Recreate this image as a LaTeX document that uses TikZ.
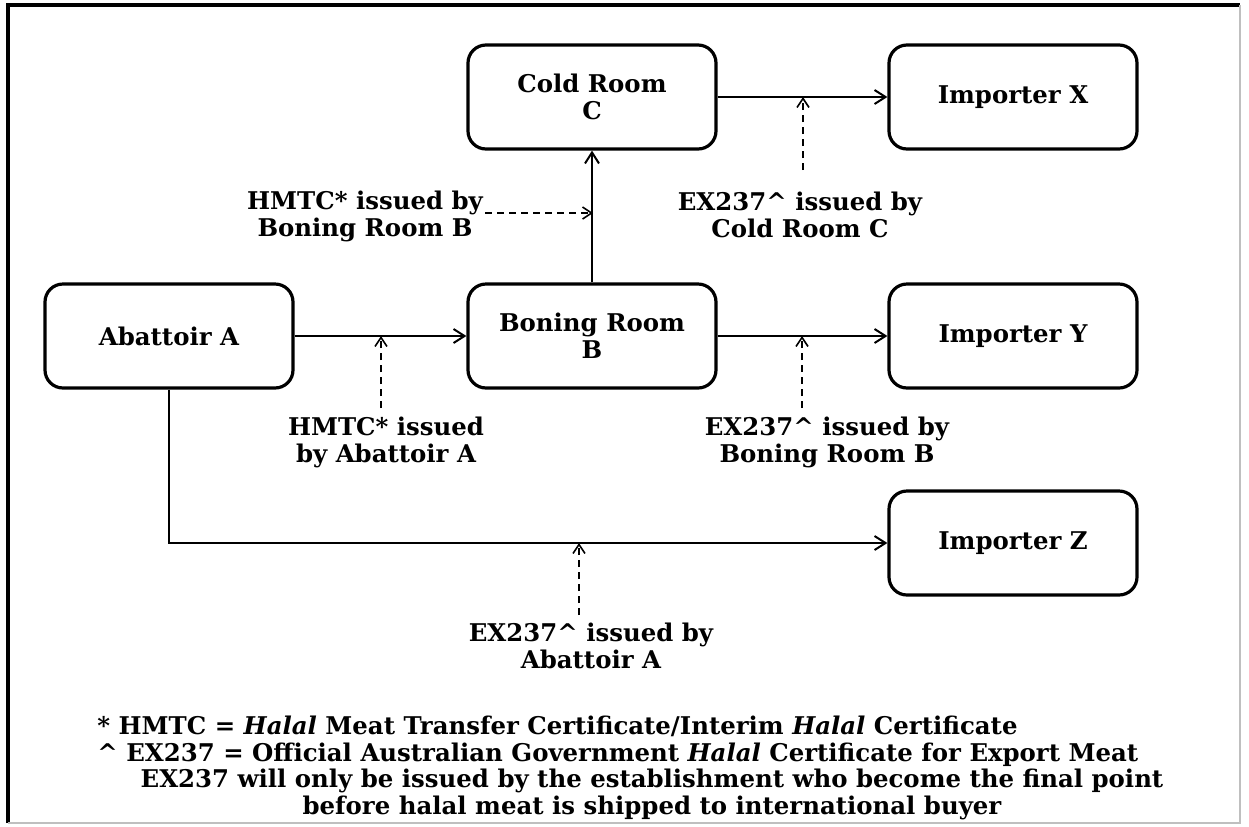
\documentclass[tikz,border=0pt]{standalone}
\usepackage{fontspec}
\setmainfont{DejaVu Serif}
\usetikzlibrary{arrows.meta,positioning}

\begin{document}
\begin{tikzpicture}[x=0.5pt, y=-0.5pt,
  font=\bfseries\fontsize{12.2}{13.5}\selectfont,
  box/.style={draw, line width=1.6pt, rounded corners=9pt, minimum width=124pt, minimum height=52pt, align=center},
  lbl/.style={align=center, inner sep=1pt},
  flow/.style={-{Straight Barb[length=5.5pt,width=7pt,line width=1pt]}, line width=1.1pt},
  cert/.style={-{Straight Barb[length=4.5pt,width=6pt,line width=0.8pt]}, dash pattern=on 3.5pt off 2.5pt, line width=0.8pt}]

  \useasboundingbox (0,0) rectangle (1249,826);
  % frame
  \draw[line width=1.6pt] (8,823) -- (8,5) -- (1240,5);
  \draw[gray!50, line width=0.6pt] (1240,5) -- (1240,823) -- (8,823);

  % places
  \node[box] (abattoir) at (169,336) {Abattoir A};
  \node[box] (boning) at (592,336) {Boning Room\\B};
  \node[box] (cold) at (592,97) {Cold Room\\C};
  \node[box] (impX) at (1013,97) {Importer X};
  \node[box] (impY) at (1013,336) {Importer Y};
  \node[box] (impZ) at (1013,543) {Importer Z};

  % certificates
  \node[lbl] (hmtcB) at (365,216) {HMTC* issued by\\Boning Room B};
  \node[lbl] (hmtcA) at (386,442) {HMTC* issued\\by Abattoir A};
  \node[lbl] (exC) at (800,215) {EX237\textasciicircum\ issued by\\Cold Room C};
  \node[lbl] (exB) at (827,442) {EX237\textasciicircum\ issued by\\Boning Room B};
  \node[lbl] (exA) at (591,646) {EX237\textasciicircum\ issued by\\Abattoir A};

  % meat flow
  \path[flow]
  (abattoir) edge (boning)
  (boning) edge (cold)
  (cold) edge (impX)
  (boning) edge (impY)
  ;
  \draw[flow] (abattoir) |- (impZ);

  \coordinate (tipB) at (593,213);
  \coordinate (tailA) at (381,408);
  \coordinate (tipA) at (381,336);
  \coordinate (tailC) at (803,170);
  \coordinate (tipC) at (803,97);
  \coordinate (tailY) at (802,408);
  \coordinate (tipY) at (802,336);
  \coordinate (tailZ) at (579,615);
  \coordinate (tipZ) at (579,543);
  \draw[cert] (hmtcB.east |- tipB) -- (tipB);
  \draw[cert] (tailA) -- (tipA);
  \draw[cert] (tailC) -- (tipC);
  \draw[cert] (tailY) -- (tipY);
  \draw[cert] (tailZ) -- (tipZ);

  % key
  \node[lbl, anchor=west, align=left] (key1) at (95,741.5)
  {* HMTC = \textit{Halal} Meat Transfer Certificate/Interim \textit{Halal} Certificate\\
   \textasciicircum\ EX237 = Official Australian Government \textit{Halal} Certificate for Export Meat};
  \node[lbl] (key2) at (652,794.5)
  {EX237 will only be issued by the establishment who become the final point\\
   before halal meat is shipped to international buyer};
\end{tikzpicture}
\end{document}
